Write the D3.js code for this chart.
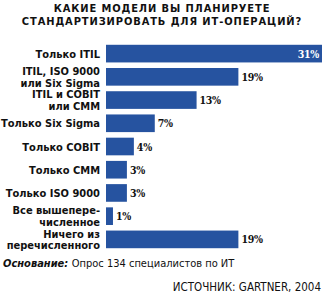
<!DOCTYPE html>
<html>
<head>
<meta charset="utf-8">
<script src="https://cdn.jsdelivr.net/npm/d3@7"></script>
<style>
  body { margin: 0; background: #fff; }
  svg { display: block; }
</style>
</head>
<body>
<div id="chart"></div>
<script>
const categories = [
  ['Только ITIL'],
  ['ITIL, ISO 9000', 'или Six Sigma'],
  ['ITIL и COBIT', 'или CMM'],
  ['Только Six Sigma'],
  ['Только COBIT'],
  ['Только CMM'],
  ['Только ISO 9000'],
  ['Все вышепере-', 'численное'],
  ['Ничего из', 'перечисленного']
];
const values = [31, 19, 13, 7, 4, 3, 3, 1, 19];
const titleLines = ['КАКИЕ МОДЕЛИ ВЫ ПЛАНИРУЕТЕ', 'СТАНДАРТИЗИРОВАТЬ ДЛЯ ИТ-ОПЕРАЦИЙ?'];

const W = 326, H = 295;
const color = '#2653a0';
const labelFont = '"DejaVu Sans Condensed", "Liberation Sans Narrow", sans-serif';

const svg = d3.select('#chart').append('svg')
  .attr('width', W)
  .attr('height', H);

// title
svg.append('g')
  .selectAll('text')
  .data(titleLines)
  .join('text')
  .attr('x', 162)
  .attr('y', (d, i) => 12 + i * 12.5)
  .attr('text-anchor', 'middle')
  .attr('font-family', labelFont)
  .attr('font-weight', 'bold')
  .attr('font-size', 11)
  .attr('letter-spacing', 0.9)
  .attr('fill', '#111')
  .text(d => d);

const x = d3.scaleLinear().domain([0, 31]).range([106, 322]);
const y = d3.scaleBand()
  .domain(d3.range(values.length))
  .range([42, 251])
  .paddingInner(0.24)
  .paddingOuter(0.12);

const rows = svg.append('g')
  .selectAll('g')
  .data(values)
  .join('g');

rows.append('rect')
  .attr('x', x(0))
  .attr('y', (d, i) => y(i))
  .attr('width', d => x(d) - x(0))
  .attr('height', y.bandwidth())
  .attr('fill', color);

// category labels, one or two lines centered on the bar
rows.each(function (d, i) {
  let lines = categories[i];
  let cy = y(i) + y.bandwidth() / 2;
  let lh = 11.5;
  d3.select(this).append('text')
    .attr('text-anchor', 'end')
    .attr('font-family', labelFont)
    .attr('font-weight', 'bold')
    .attr('font-size', 11)
    .attr('fill', '#111')
    .selectAll('tspan')
    .data(lines)
    .join('tspan')
    .attr('x', 100)
    .attr('y', (l, j) => cy + 4 + (j - (lines.length - 1) / 2) * lh)
    .text(l => l);
});

// value labels
rows.append('text')
  .attr('x', d => d >= 25 ? x(d) - 3 : x(d) + 3)
  .attr('y', (d, i) => y(i) + y.bandwidth() / 2 + 4)
  .attr('text-anchor', d => d >= 25 ? 'end' : 'start')
  .attr('font-family', '"DejaVu Serif Condensed", Georgia, serif')
  .attr('font-weight', 'bold')
  .attr('font-size', 10.5)
  .attr('letter-spacing', -0.3)
  .attr('fill', d => d >= 25 ? '#fff' : '#111')
  .text(d => d + '%');

// footer
const note = svg.append('text')
  .attr('x', 3)
  .attr('y', 267)
  .attr('font-family', labelFont)
  .attr('font-size', 11)
  .attr('fill', '#111');
note.append('tspan')
  .attr('font-weight', 'bold')
  .attr('font-style', 'italic')
  .text('Основание: ');
note.append('tspan').text('Опрос 134 специалистов по ИТ');

svg.append('text')
  .attr('x', 321)
  .attr('y', 291)
  .attr('text-anchor', 'end')
  .attr('font-family', labelFont)
  .attr('font-size', 11.5)
  .attr('fill', '#111')
  .text('ИСТОЧНИК: GARTNER, 2004');
</script>
</body>
</html>
